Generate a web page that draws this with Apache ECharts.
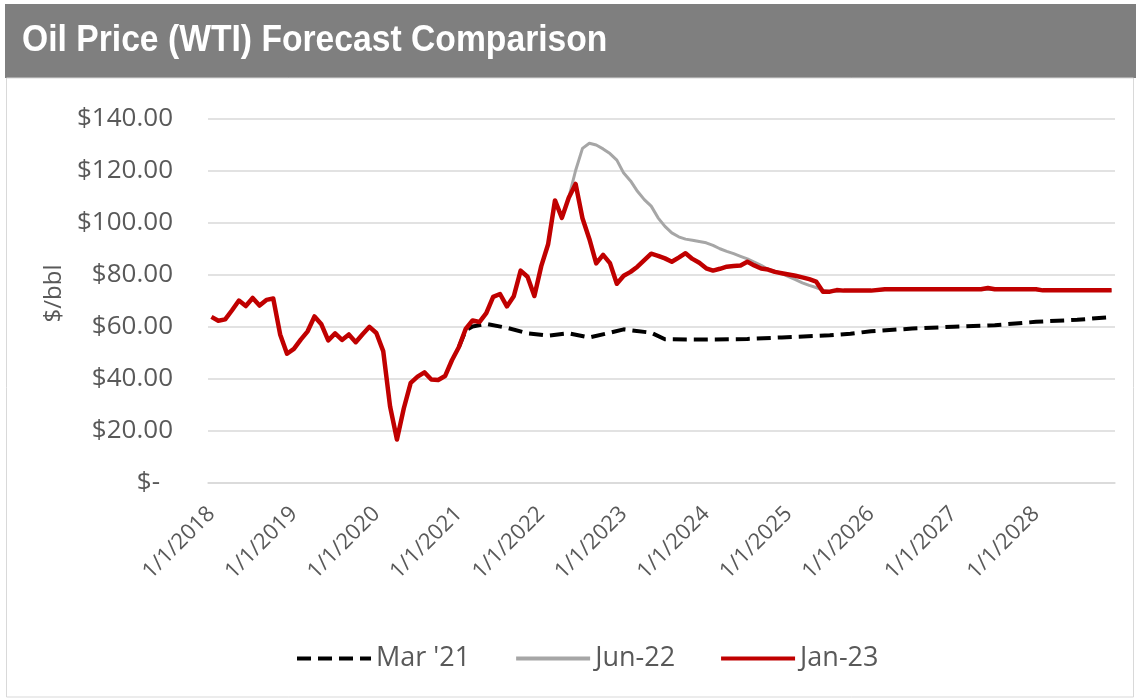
<!DOCTYPE html>
<html><head><meta charset="utf-8">
<script src="https://cdn.jsdelivr.net/npm/echarts@6/dist/echarts.min.js"></script>
<style>html,body{margin:0;padding:0;background:#fff}#c{width:1139px;height:699px}</style>
</head><body><div id="c"></div>
<script>
// ---- data ----
const titleText = 'Oil Price (WTI) Forecast Comparison';
const firstYear = 2018, lastYear = 2028;
const xTickLabels = ['1/1/2018','1/1/2019','1/1/2020','1/1/2021','1/1/2022','1/1/2023','1/1/2024','1/1/2025','1/1/2026','1/1/2027','1/1/2028'];
const yTickLabels = ['$-','$20.00','$40.00','$60.00','$80.00','$100.00','$120.00','$140.00'];
const seriesNames = ["Mar '21", 'Jun-22', 'Jan-23'];

// Jan-23: monthly values from 2018-01
const jan23Start = '2018-01';
const jan23Monthly = [
  63.70, 62.23, 62.73, 66.25, 69.98, 67.87, 70.98, 68.06, 70.23, 70.75, 56.96, 49.52,
  51.38, 54.95, 58.15, 63.86, 60.83, 54.66, 57.35, 54.81, 56.95, 53.96, 57.03, 59.88,
  57.52, 50.54, 29.21, 16.55, 28.56, 38.31, 40.71, 42.34, 39.63, 39.40, 40.94, 47.02,
  52.00, 59.04, 62.33, 61.72, 65.17, 71.38, 72.49, 67.73, 71.65, 81.48, 79.15, 71.71,
  83.22, 91.64, 108.50, 101.78, 109.55, 114.84, 101.62, 93.67, 84.26, 87.55, 84.37, 76.44,
  79.5, 81.0, 83.0, 85.5, 88.0, 87.2, 86.2, 84.9, 86.5, 88.2, 86.0, 84.5,
  82.4, 81.5, 82.2, 83.0, 83.3, 83.5, 84.9, 83.5, 82.3, 81.9, 81.0, 80.5,
  80.0, 79.5, 78.9, 78.2, 77.3, 73.4, 73.4, 74.0, 73.8
];
const jan23TailMonths = ['2025-10','2026-01','2026-03','2027-05','2027-06','2027-07','2028-01','2028-02','2028-12'];
const jan23TailValues = [73.8, 73.8, 74.3, 74.3, 74.8, 74.3, 74.3, 73.9, 73.9];

// Jun-22: monthly values from 2022-05
const jun22Start = '2022-05';
const jun22Monthly = [
  109.55, 120.0, 128.5, 130.5, 129.8, 128.3, 126.5, 124.0,
  119.0, 116.0, 112.0, 108.8, 106.3, 101.8, 98.5, 96.0, 94.5, 93.6, 93.2, 92.7,
  92.2, 91.2, 89.9, 88.9, 88.0, 87.0, 86.0, 84.8, 83.5, 82.0, 81.3, 80.3,
  79.2, 78.0, 76.8, 75.8, 75.0, 74.0, 73.4
];
const jun22TailMonths = ['2025-09','2026-01','2026-03','2027-07','2028-01','2028-02','2028-12'];
const jun22TailValues = [73.8, 73.8, 74.2, 74.2, 74.2, 73.8, 73.8];

// Mar '21
const mar21Months = ['2021-01','2021-02','2021-03','2021-05','2021-08','2021-11','2022-02','2022-05','2022-08','2022-11','2023-01','2023-05','2023-07','2024-01','2024-07','2024-12','2025-07','2025-10','2026-01','2026-07','2027-01','2027-07','2028-01','2028-07','2028-12'];
const mar21Values = [52.0, 58.5, 60.0, 61.0, 59.5, 57.4, 56.5, 57.4, 55.8, 57.6, 58.9, 57.6, 55.1, 55.0, 55.2, 55.8, 56.6, 57.2, 58.2, 59.2, 59.9, 60.5, 61.8, 62.6, 63.6];

// ---- build ----
const months = [];
for (let y = firstYear; y <= lastYear; y++) for (let m = 1; m <= 12; m++) months.push(y + '-' + String(m).padStart(2, '0'));
function monthly(start, vals) { const i0 = months.indexOf(start); return vals.map((v, i) => [months[i0 + i], v]); }
function pairs(ms, vs) { return ms.map((m, i) => [m, vs[i]]); }

const chart = echarts.init(document.getElementById('c'));
const txt = '#595959', font = 'Open Sans';
chart.setOption({
  animation: false,
  backgroundColor: '#fff',
  graphic: [
    { type: 'rect', z: -10, shape: { x: 5, y: 4, width: 1131, height: 74 }, style: { fill: '#7f7f7f' } },
    { type: 'rect', z: -10, shape: { x: 6.5, y: 78, width: 1127, height: 619 }, style: { fill: 'none', stroke: '#d9d9d9', lineWidth: 1 } },
    { type: 'text', z: 10, x: 22, y: 41, scaleX: 0.935,
      style: { text: titleText, fill: '#fff', font: 'bold 36px "Liberation Sans", Arial, sans-serif', verticalAlign: 'middle', align: 'left' } }
  ],
  grid: { left: 208, right: 24, top: 118.5, bottom: 216.5 },
  legend: {
    left: 290, top: 640, itemWidth: 74, itemHeight: 16, itemGap: 44,
    itemStyle: { opacity: 0 },
    lineStyle: { width: 4 },
    textStyle: { color: txt, fontSize: 27, fontFamily: font },
    data: seriesNames
  },
  xAxis: {
    type: 'category', data: months, boundaryGap: true,
    axisLine: { lineStyle: { color: '#d9d9d9', width: 1.5 } },
    axisTick: { show: false },
    axisLabel: {
      interval: (i) => i % 12 === 0, rotate: 45, margin: 28,
      color: txt, fontSize: 22, fontFamily: font,
      formatter: (v) => xTickLabels[parseInt(v.slice(0, 4)) - firstYear]
    },
    splitLine: { show: false }
  },
  yAxis: {
    type: 'value', min: 0, max: 140, interval: 20,
    name: '$/bbl', nameLocation: 'middle', nameRotate: 90, nameGap: 137,
    nameTextStyle: { color: txt, fontSize: 24, fontFamily: font, padding: [0, 0, 0, 14] },
    axisLine: { show: false }, axisTick: { show: false },
    axisLabel: {
      margin: 35, color: txt, fontSize: 26, fontFamily: font,
      formatter: (v) => v === 0 ? '{z|' + yTickLabels[0] + '}' : yTickLabels[v / 20],
      rich: { z: { color: txt, fontSize: 26, fontFamily: font, padding: [0, 13, 0, 0] } }
    },
    splitLine: { lineStyle: { color: '#d9d9d9', width: 1.5 } }
  },
  series: [
    { name: seriesNames[0], type: 'line', symbol: 'none', data: pairs(mar21Months, mar21Values),
      lineStyle: { color: '#000', width: 4, type: [14, 7], cap: 'butt', join: 'round' }, itemStyle: { color: '#000' }, z: 2 },
    { name: seriesNames[1], type: 'line', symbol: 'none',
      data: monthly(jun22Start, jun22Monthly).concat(pairs(jun22TailMonths, jun22TailValues)),
      lineStyle: { color: '#a6a6a6', width: 3, join: 'round' }, itemStyle: { color: '#a6a6a6' }, z: 3 },
    { name: seriesNames[2], type: 'line', symbol: 'none',
      data: monthly(jan23Start, jan23Monthly).concat(pairs(jan23TailMonths, jan23TailValues)),
      lineStyle: { color: '#c00000', width: 4.5, join: 'round' }, itemStyle: { color: '#c00000' }, z: 4 }
  ]
});
</script></body></html>
